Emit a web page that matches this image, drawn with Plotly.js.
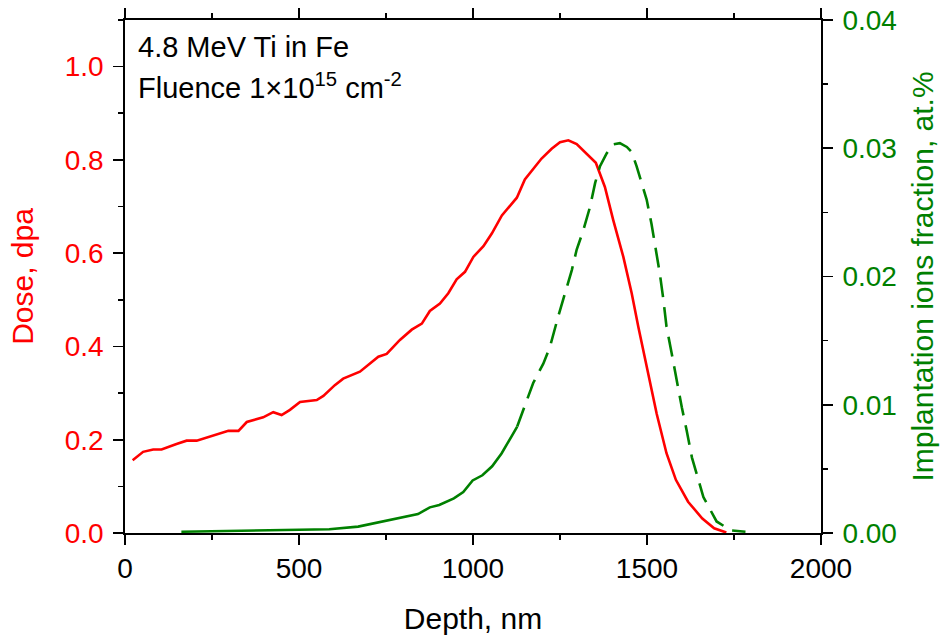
<!DOCTYPE html>
<html>
<head>
<meta charset="utf-8">
<script src="https://cdn.plot.ly/plotly-3.0.1.min.js"></script>
<style>html,body{margin:0;padding:0;background:#fff;}#chart{width:950px;height:635px;}</style>
</head>
<body>
<div id="chart"></div>
<script>
// Damage dose profile (left axis, dpa)
const doseDepth = [22, 52, 81, 105, 148, 177, 206, 263, 297, 326, 350, 397, 426, 450, 474, 503, 551, 570, 603, 627, 675, 728, 752, 790, 824, 853, 876, 905, 929, 953, 977, 1001, 1030, 1054, 1083, 1126, 1149, 1197, 1226, 1250, 1274, 1298, 1327, 1353, 1379, 1403, 1432, 1456, 1475, 1499, 1528, 1556, 1583, 1618, 1659, 1693, 1728];
const doseDpa = [0.156, 0.174, 0.179, 0.179, 0.191, 0.198, 0.198, 0.211, 0.219, 0.219, 0.238, 0.248, 0.259, 0.253, 0.264, 0.281, 0.285, 0.294, 0.317, 0.331, 0.346, 0.378, 0.384, 0.414, 0.436, 0.449, 0.476, 0.492, 0.514, 0.544, 0.560, 0.592, 0.615, 0.642, 0.681, 0.719, 0.758, 0.803, 0.824, 0.838, 0.842, 0.834, 0.814, 0.794, 0.742, 0.671, 0.592, 0.514, 0.442, 0.356, 0.255, 0.171, 0.114, 0.067, 0.031, 0.010, 0.001];

// Implanted ion fraction (right axis, at.%)
const implDepth = [162, 326, 478, 587, 670, 752, 807, 842, 876, 903, 945, 972, 999, 1027, 1055, 1082, 1110, 1127, 1145, 1173, 1202, 1221, 1245, 1269, 1284, 1298, 1317, 1336, 1351, 1365, 1384, 1403, 1422, 1442, 1456, 1470, 1485, 1499, 1513, 1523, 1537, 1547, 1556, 1571, 1585, 1600, 1614, 1629, 1662, 1700, 1741, 1783];
const implFraction = [0.0001, 0.00016, 0.00023, 0.00029, 0.0005, 0.00096, 0.00127, 0.00148, 0.0020, 0.00218, 0.0027, 0.0032, 0.0041, 0.0045, 0.0052, 0.0062, 0.0075, 0.0083, 0.0096, 0.0117, 0.0132, 0.0145, 0.0169, 0.0192, 0.0205, 0.0221, 0.0236, 0.0254, 0.0273, 0.0286, 0.0296, 0.0303, 0.0304, 0.0301, 0.0297, 0.0286, 0.0273, 0.0260, 0.0241, 0.0226, 0.0202, 0.0182, 0.0161, 0.0140, 0.0119, 0.0098, 0.0080, 0.0059, 0.0028, 0.0009, 0.0002, 0.0001];

const xTicks = [0, 500, 1000, 1500, 2000];
const doseTicks = [0.0, 0.2, 0.4, 0.6, 0.8, 1.0];
const implTicks = [0.00, 0.01, 0.02, 0.03, 0.04];

// the implant curve is drawn solid where the profile is dense, dashed beyond
const splitIdx = implDepth.indexOf(1127);

const FONT = '"Liberation Sans", Arial, sans-serif';
const RED = '#ff0000';
const GREEN = '#008000';

const traces = [
  {
    x: doseDepth, y: doseDpa, type: 'scatter', mode: 'lines', name: 'Dose',
    line: {color: RED, width: 2.6}, xaxis: 'x', yaxis: 'y', showlegend: false
  },
  {
    x: implDepth.slice(0, splitIdx + 1), y: implFraction.slice(0, splitIdx + 1),
    type: 'scatter', mode: 'lines', name: 'Implantation',
    line: {color: GREEN, width: 2.6}, xaxis: 'x', yaxis: 'y2', showlegend: false
  },
  {
    x: implDepth.slice(splitIdx), y: implFraction.slice(splitIdx),
    type: 'scatter', mode: 'lines', name: 'Implantation',
    line: {color: GREEN, width: 2.6, dash: '20px,10px'}, xaxis: 'x', yaxis: 'y2', showlegend: false
  }
];

const tickCommon = {tickwidth: 1.6, tickcolor: '#000', showgrid: false, zeroline: false,
  showline: true, linecolor: '#000', linewidth: 1.8};

const layout = {
  width: 950, height: 635,
  margin: {l: 125, r: 129, t: 20, b: 102},
  paper_bgcolor: '#fff', plot_bgcolor: '#fff',
  font: {family: FONT, size: 28, color: '#000'},
  showlegend: false,
  xaxis: Object.assign({}, tickCommon, {
    range: [0, 2000], tickvals: xTicks, ticktext: xTicks.map(String),
    ticks: 'outside', ticklen: 10, mirror: 'ticks',
    minor: {ticks: 'outside', dtick: 250, tick0: 0, ticklen: 5, tickwidth: 1.6, tickcolor: '#000'},
    tickfont: {family: FONT, size: 28, color: '#000'},
    title: {text: 'Depth, nm', font: {family: FONT, size: 30, color: '#000'}, standoff: 28},
    automargin: false, anchor: 'y'
  }),
  yaxis: Object.assign({}, tickCommon, {
    range: [0, 1.1], tickvals: doseTicks, ticktext: doseTicks.map(v => v.toFixed(1)),
    ticks: 'outside', ticklen: 10,
    minor: {ticks: 'outside', dtick: 0.1, tick0: 0, ticklen: 5, tickwidth: 1.6, tickcolor: '#000'},
    tickfont: {family: FONT, size: 28, color: RED},
    ticklabelstandoff: 4,
    title: {text: 'Dose, dpa', font: {family: FONT, size: 30, color: RED}, standoff: 22},
    automargin: false, anchor: 'x'
  }),
  yaxis2: Object.assign({}, tickCommon, {
    overlaying: 'y', side: 'right', anchor: 'x',
    range: [0, 0.04], tickvals: implTicks, ticktext: implTicks.map(v => v.toFixed(2)),
    ticks: 'outside', ticklen: 10,
    minor: {ticks: 'outside', dtick: 0.005, tick0: 0, ticklen: 5, tickwidth: 1.6, tickcolor: '#000'},
    tickfont: {family: FONT, size: 28, color: GREEN},
    ticklabelstandoff: 4,
    title: {text: 'Implantation ions fraction, at.%', font: {family: FONT, size: 30, color: GREEN}, standoff: 16},
    automargin: false
  }),
  annotations: [
    {
      text: '4.8 MeV Ti in Fe', xref: 'paper', yref: 'paper', x: 0.016, y: 0.948,
      xanchor: 'left', yanchor: 'middle', showarrow: false,
      font: {family: FONT, size: 29, color: '#000'}
    },
    {
      text: 'Fluence 1\u00d710<sup>15</sup> cm<sup>-2</sup>', xref: 'paper', yref: 'paper', x: 0.016, y: 0.872,
      xanchor: 'left', yanchor: 'middle', showarrow: false,
      font: {family: FONT, size: 29, color: '#000'}
    }
  ]
};

Plotly.newPlot('chart', traces, layout, {staticPlot: true, displayModeBar: false});
</script>
</body>
</html>
